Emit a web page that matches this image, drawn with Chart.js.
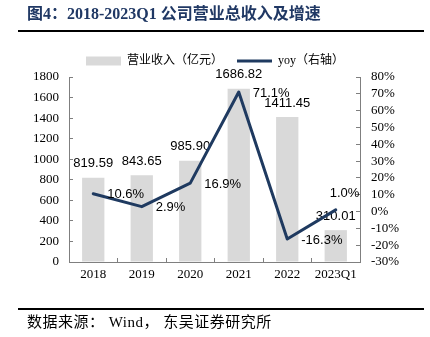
<!DOCTYPE html>
<html>
<head>
<meta charset="utf-8">
<script src="https://cdn.jsdelivr.net/npm/chart.js@4.4.1/dist/chart.umd.min.js"></script>
<style>
    html, body { margin: 0; padding: 0; background: #fff; }
    #wrap { position: relative; width: 430px; height: 337px; overflow: hidden; }
    #chart { position: absolute; left: 0; top: 0; }
    #title {
        position: absolute; left: 27px; top: 5px;
        font: bold 16px "Liberation Serif", "Noto Sans CJK SC", serif;
        line-height: 18px; color: #203864; white-space: nowrap;
    }
    .rule { position: absolute; left: 18px; width: 406px; height: 2px; background: #000; }
    #source {
        position: absolute; left: 27px; top: 313px;
        font: 15px "Liberation Serif", "Noto Sans CJK SC", serif;
        letter-spacing: 0.5px;
        line-height: 18px; color: #000; white-space: nowrap;
    }
</style>
</head>
<body>
<div id="wrap">
    <canvas id="chart" width="430" height="337"></canvas>
    <div id="title">图4：2018-2023Q1 公司营业总收入及增速</div>
    <div class="rule" style="top:30px"></div>
    <div class="rule" style="top:308px"></div>
    <div id="source">数据来源： Wind， 东吴证券研究所</div>
</div>
<script>
// ---- Daten ----
const years = ['2018', '2019', '2020', '2021', '2022', '2023Q1'];
const revenue = [819.59, 843.65, 985.90, 1686.82, 1411.45, 310.01];   // 亿元
const yoy = [10.6, 2.9, 16.9, 71.1, -16.3, 1.0];                       // %

const serif = '"Liberation Serif", "Times New Roman", serif';
const sans = '"Liberation Sans", Arial, sans-serif';

// ---- Beschriftungen an Balken und Linie ----
const valueLabels = {
    id: 'valueLabels',
    afterDatasetDraw(chart, args) {
        if (args.meta.type !== 'bar') return;
        const ctx = chart.ctx;
        ctx.save();
        ctx.font = '13px ' + sans;
        ctx.fillStyle = '#000';
        ctx.textAlign = 'center';
        ctx.textBaseline = 'middle';
        args.meta.data.forEach((bar, i) => {
            ctx.fillText(revenue[i].toFixed(2), bar.x, bar.y - 14);
        });
        ctx.restore();
    },
    afterDatasetsDraw(chart) {
        const meta = chart.getDatasetMeta(1);
        const ctx = chart.ctx;
        ctx.save();
        ctx.font = '13px ' + sans;
        ctx.fillStyle = '#000';
        ctx.textAlign = 'left';
        ctx.textBaseline = 'middle';
        meta.data.forEach((pt, i) => {
            const txt = yoy[i].toFixed(1) + '%';
            if (i === yoy.length - 1) {
                // letzter Punkt: Beschriftung oberhalb
                ctx.fillText(txt, pt.x - 6, pt.y - 16);
            } else {
                ctx.fillText(txt, pt.x + 14, pt.y + 1);
            }
        });
        ctx.restore();
    }
};

const ctx = document.getElementById('chart').getContext('2d');
new Chart(ctx, {
    type: 'bar',
    data: {
        labels: years,
        datasets: [
            {
                type: 'bar',
                label: '营业收入（亿元）',
                data: revenue,
                backgroundColor: '#d9d9d9',
                borderWidth: 0,
                barPercentage: 0.46,
                categoryPercentage: 1,
                yAxisID: 'y',
                order: 1
            },
            {
                type: 'line',
                label: 'yoy（右轴）',
                data: yoy,
                borderColor: '#1f3a60',
                backgroundColor: '#1f3a60',
                borderWidth: 3,
                pointRadius: 0,
                tension: 0,
                borderJoinStyle: 'round',
                borderCapStyle: 'round',
                yAxisID: 'y1',
                order: 0
            }
        ]
    },
    options: {
        responsive: false,
        animation: false,
        layout: { padding: { top: 41, left: 0, right: 0, bottom: 0 } },
        plugins: {
            tooltip: { enabled: false },
            legend: {
                position: 'top',
                labels: {
                    usePointStyle: true,
                    pointStyleWidth: 35,
                    boxHeight: 9,
                    padding: 14,
                    color: '#000',
                    font: { size: 12, family: serif + ', "Noto Sans CJK SC"' },
                    sort: (a, b) => a.datasetIndex - b.datasetIndex,
                    generateLabels(chart) {
                        const items = Chart.defaults.plugins.legend.labels.generateLabels(chart);
                        items.forEach(it => {
                            it.pointStyle = it.datasetIndex === 0 ? 'rect' : 'line';
                        });
                        return items;
                    }
                }
            }
        },
        scales: {
            x: {
                grid: { drawOnChartArea: false, offset: true, tickLength: -4, color: '#7f7f7f' },
                border: { color: '#7f7f7f' },
                ticks: { color: '#000', padding: 9, font: { size: 13, family: serif } },
                afterFit(scale) { scale.height = 75; }
            },
            y: {
                position: 'left',
                min: 0,
                max: 1800,
                grid: { drawOnChartArea: false, tickLength: -4, color: '#7f7f7f' },
                border: { color: '#7f7f7f' },
                ticks: {
                    stepSize: 200, color: '#000', padding: 14,
                    font: { size: 13, family: serif },
                    callback: v => String(v)
                },
                afterFit(scale) { scale.width = 69; }
            },
            y1: {
                position: 'right',
                min: -30,
                max: 80,
                grid: { drawOnChartArea: false, tickLength: -4, color: '#7f7f7f' },
                border: { color: '#7f7f7f' },
                ticks: {
                    stepSize: 10, autoSkip: false, color: '#000', padding: 15,
                    font: { size: 13, family: serif },
                    callback: v => v + '%'
                },
                afterFit(scale) { scale.width = 70; }
            }
        }
    },
    plugins: [valueLabels]
});
</script>
</body>
</html>
